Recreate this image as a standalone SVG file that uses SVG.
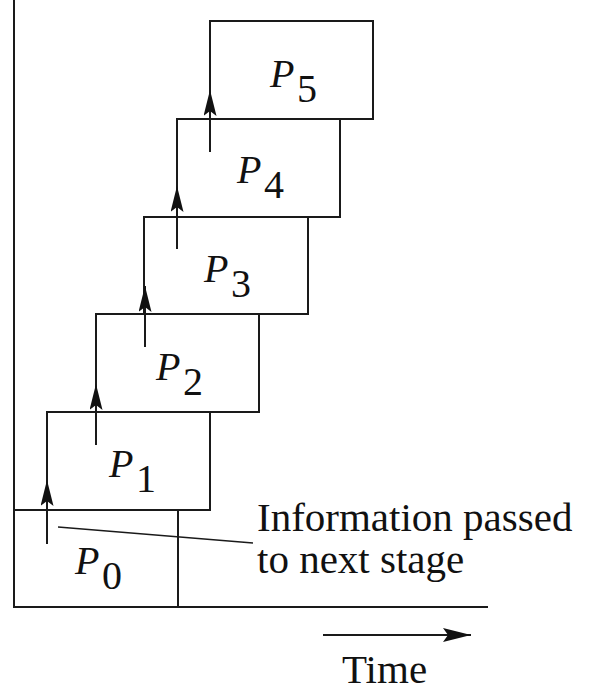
<svg xmlns="http://www.w3.org/2000/svg" width="594" height="691" viewBox="0 0 594 691">
  <style>
    .box { fill: none; stroke: #1a1a1a; stroke-width: 2; }
    .axis { fill: none; stroke: #1a1a1a; stroke-width: 2; }
    .flow { fill: none; stroke: #1a1a1a; stroke-width: 2; marker-end: url(#head); }
    .lead { fill: none; stroke: #1a1a1a; stroke-width: 1.5; }
    .lab { font-family: 'Liberation Serif', 'Times New Roman', serif; font-size: 40px; fill: #111; }
    .note { font-family: 'Liberation Serif', 'Times New Roman', serif; font-size: 41px; fill: #111; }
  </style>
  <defs>
    <marker id="head" viewBox="0 0 26 13" refX="26" refY="6.5" markerWidth="26" markerHeight="13" markerUnits="userSpaceOnUse" orient="auto">
      <path d="M0,0 L26,6.5 L0,13 L5,6.5 Z" fill="#111"/>
    </marker>
    <marker id="timehead" viewBox="0 0 28 14" refX="28" refY="7" markerWidth="28" markerHeight="14" markerUnits="userSpaceOnUse" orient="auto">
      <path d="M0,0 L28,7 L0,14 L5,7 Z" fill="#111"/>
    </marker>
  </defs>

  <!-- axes -->
  <g id="axes">
    <line class="axis" x1="14" y1="0" x2="14" y2="607"/>
    <line class="axis" x1="13" y1="607" x2="488" y2="607"/>
  </g>

  <!-- pipeline stages -->
  <g id="stage-p0">
    <rect class="box" x="14" y="510" width="164" height="97"/>
    <text class="lab"><tspan font-style="italic" x="75" y="574">P</tspan><tspan x="102" y="589">0</tspan></text>
  </g>
  <g id="stage-p1">
    <rect class="box" x="47" y="412" width="163" height="98"/>
    <text class="lab"><tspan font-style="italic" x="109" y="477">P</tspan><tspan x="136" y="492">1</tspan></text>
  </g>
  <g id="stage-p2">
    <rect class="box" x="96" y="314" width="163" height="98"/>
    <text class="lab"><tspan font-style="italic" x="156" y="380">P</tspan><tspan x="183" y="395">2</tspan></text>
  </g>
  <g id="stage-p3">
    <rect class="box" x="144" y="217" width="164" height="97"/>
    <text class="lab"><tspan font-style="italic" x="204" y="282">P</tspan><tspan x="231" y="297">3</tspan></text>
  </g>
  <g id="stage-p4">
    <rect class="box" x="177" y="119" width="163" height="98"/>
    <text class="lab"><tspan font-style="italic" x="237" y="183">P</tspan><tspan x="264" y="198">4</tspan></text>
  </g>
  <g id="stage-p5">
    <rect class="box" x="210" y="21" width="163" height="98"/>
    <text class="lab"><tspan font-style="italic" x="270" y="87">P</tspan><tspan x="297" y="102">5</tspan></text>
  </g>

  <!-- hand-offs between stages -->
  <g id="connectors">
    <line class="flow" x1="47" y1="544" x2="47" y2="480"/>
    <line class="flow" x1="96" y1="445" x2="96" y2="384"/>
    <line class="flow" x1="145" y1="347" x2="145" y2="286"/>
    <line class="flow" x1="177" y1="249" x2="177" y2="186"/>
    <line class="flow" x1="210" y1="152" x2="210" y2="90"/>
    <line class="lead" x1="58" y1="527" x2="253" y2="543"/>
  </g>

  <!-- annotation -->
  <g id="note">
    <text class="note" x="257" y="531">Information passed</text>
    <text class="note" x="257" y="573">to next stage</text>
  </g>

  <!-- time direction -->
  <g id="time">
    <line x1="323" y1="635" x2="471" y2="635" stroke="#1a1a1a" stroke-width="2" marker-end="url(#timehead)"/>
    <text class="note" x="342" y="683">Time</text>
  </g>
</svg>
